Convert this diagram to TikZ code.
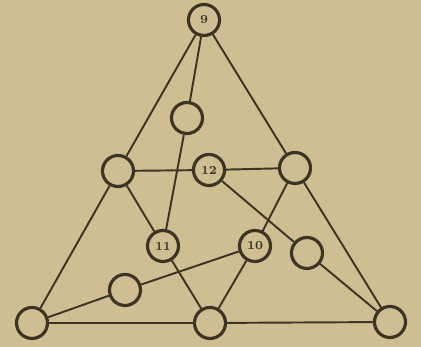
\documentclass[tikz,border=0pt]{standalone}
\usepackage{amsmath, amssymb}
\definecolor{paper}{RGB}{206,190,146}
\definecolor{ink}{RGB}{62,52,38}
\tikzstyle{spot}=[circle, draw=ink, line width=1.8pt, fill=paper, minimum size=0.62cm, inner sep=0pt, font=\scriptsize\bfseries, text=ink]
\tikzstyle{link}=[draw=ink, line width=1.1pt]

\begin{document}
\begin{tikzpicture}
				% paper and frame
				\fill[paper] (0,0) rectangle (8.42,6.94);
				\useasboundingbox (0,0) rectangle (8.42,6.94);

				% Spots of the triangle
				\node[spot] (t)   at (4.08, 6.54) {9};
				\node[spot] (a)   at (3.74, 4.58) {};
				\node[spot] (l)   at (2.36, 3.52) {};
				\node[spot] (m)   at (4.18, 3.54) {12};
				\node[spot] (r)   at (5.90, 3.58) {};
				\node[spot] (e)   at (3.26, 2.02) {11};
				\node[spot] (d)   at (5.10, 2.02) {10};
				\node[spot] (p)   at (6.14, 1.88) {};
				\node[spot] (q)   at (2.50, 1.14) {};
				\node[spot] (bl)  at (0.64, 0.48) {};
				\node[spot] (bm)  at (4.20, 0.48) {};
				\node[spot] (br)  at (7.80, 0.50) {};

				% Lines between spots
				\foreach \u/\v in {t/l, l/bl, t/r, r/br, t/a, a/e, l/m, m/r, l/e, e/bm,
				                   r/d, d/bm, m/p, p/br, d/q, q/bl, bl/bm, bm/br}{
					\draw[link] (\u) -- (\v);
				}
			\end{tikzpicture}
\end{document}
